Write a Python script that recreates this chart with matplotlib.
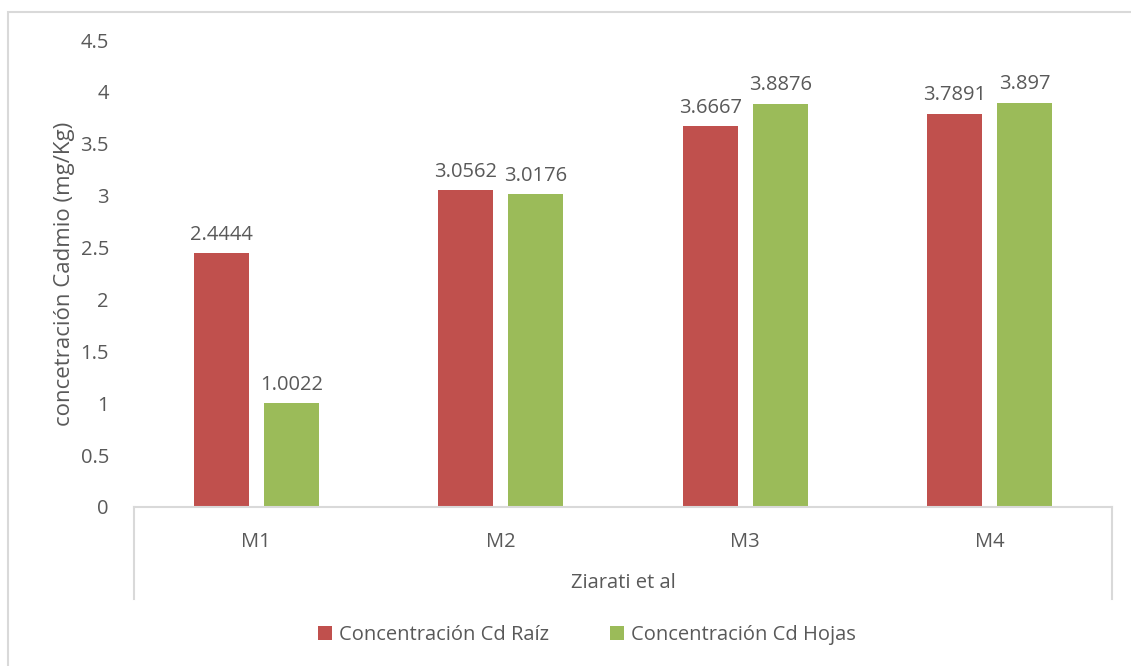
import matplotlib.pyplot as plt
from matplotlib.patches import Rectangle
from matplotlib.lines import Line2D
import numpy as np

plt.rcParams['font.family'] = ['Open Sans', 'DejaVu Sans']

categories = ['M1', 'M2', 'M3', 'M4']
raiz = [2.4444, 3.0562, 3.6667, 3.7891]
hojas = [1.0022, 3.0176, 3.8876, 3.897]
group_label = 'Ziarati et al'
series_names = ['Concentración Cd Raíz', 'Concentración Cd Hojas']

red = '#c0504d'
green = '#9bbb59'
text_col = '#595959'
line_col = '#d9d9d9'
fs = 14.5

W, H = 1131, 666
fig = plt.figure(figsize=(W / 100, H / 100), dpi=100)

# outer chart border (only top/left edges fall inside the image)
fig.patches.append(Rectangle((8 / W, -0.1), 1.2, 1 - 12 / H + 0.1,
                             transform=fig.transFigure, fill=False,
                             edgecolor=line_col, linewidth=1.5))

ax = fig.add_axes([134 / W, (H - 507) / H, 978 / W, 467 / H])

x = np.arange(len(categories))
w = 0.225
off = 0.143
b1 = ax.bar(x - off, raiz, w, color=red, label=series_names[0])
b2 = ax.bar(x + off, hojas, w, color=green, label=series_names[1])

for bars, vals in ((b1, raiz), (b2, hojas)):
    ax.bar_label(bars, labels=[f'{v:g}' for v in vals], padding=6,
                 fontsize=fs, color=text_col)

ax.set_xlim(-0.5, 3.5)
ax.set_ylim(0, 4.5)
ax.set_yticks(np.arange(0, 4.51, 0.5))
ax.set_yticklabels([f'{t:g}' for t in np.arange(0, 4.51, 0.5)])
ax.set_xticks(x)
ax.set_xticklabels(categories)
ax.tick_params(axis='both', length=0, labelsize=fs, labelcolor=text_col)
ax.tick_params(axis='y', pad=18)
ax.tick_params(axis='x', pad=18)

for s in ('top', 'right', 'left'):
    ax.spines[s].set_visible(False)
ax.spines['bottom'].set_color(line_col)
ax.spines['bottom'].set_linewidth(1.5)

# multi-level category separators at the outer edges
sep_bottom = (507 - 599) / 467
for xs in (-0.5, 3.5):
    ax.add_line(Line2D([xs, xs], [0, sep_bottom], transform=ax.get_xaxis_transform(),
                       color=line_col, linewidth=1.5, clip_on=False))

ax.text(0.5, (507 - 583) / 467, group_label, transform=ax.transAxes,
        ha='center', va='center', fontsize=fs, color=text_col)

ax.set_ylabel('concetración Cadmio (mg/Kg)', fontsize=fs + 1.5, color=text_col, labelpad=4)

fig.legend(handles=[b1, b2], labels=series_names, loc='center',
           bbox_to_anchor=(587 / W, 1 - 635 / H), ncol=2, frameon=False,
           fontsize=fs, labelcolor=text_col, handlelength=0.7, handleheight=0.7,
           handletextpad=0.35, columnspacing=3.0)

fig.savefig('out.png', dpi=100, facecolor='white')
